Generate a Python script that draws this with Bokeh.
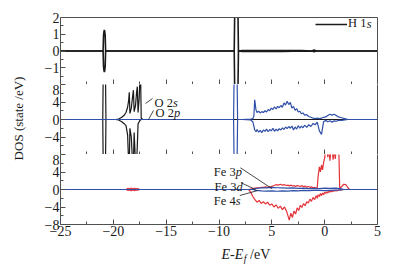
from math import pi
from bokeh.plotting import figure
from bokeh.layouts import column, row
from bokeh.models import FixedTicker, LinearAxis, Label, Arrow, Legend, LegendItem, Range1d
from bokeh.embed import file_html
from bokeh.resources import INLINE

# ---------------- data ----------------
x_ticks = [-25, -20, -15, -10, -5, 0, 5]
x_tick_labels = ["−25", "−20", "−15", "−10", "5", "0", "5"]
x_minor = [-22.5, -17.5, -12.5, -7.5, -2.5, 2.5]

top_y_ticks = [2, 1, 0, -1]
top_y_labels = ["2", "1", "0", "−1"]
top_y_minor = [1.5, 0.5, -0.5, -1.5]
mid_y_ticks = [8, 4, 0, -4]
mid_y_labels = ["8", "4", "0", "−4"]
bot_y_ticks = [8, 4, 0, -4, -8]
bot_y_labels = ["8", "4", "0", "−4", "−8"]
big_y_minor = [6, 2, -2, -6]

# H 1s (top panel)
h1s_x = [-25, -20.97, -20.93, -20.89, -20.85, -20.81, -20.77, -20.73, -8.56, -8.5, -8.36, -8.22, -8.16,
         -7.8, -7.0, -6.0, -5.0, -4.0, -3.0, -2.2, -1.2, -1.0, -0.8, 0, 5]
h1s_up = [0, 0, 0.9, 1.15, 1.25, 1.15, 0.9, 0, 0, 3.0, 3.4, 3.0, 0,
          0.02, 0.03, 0.02, 0.03, 0.02, 0.03, 0.02, 0, 0.06, 0, 0, 0]
h1s_dn = [0, 0, -0.9, -1.15, -1.25, -1.15, -0.9, 0, 0, -3.0, -3.4, -3.0, 0,
          -0.02, -0.02, -0.02, -0.02, -0.02, -0.01, -0.01, 0, -0.04, 0, 0, 0]

# O 2s (middle panel, black)
o2s_x = [-25, -21.0, -20.96, -20.9, -20.8, -20.74, -20.7, -19.8, -19.5, -19.2, -19.0, -18.8, -18.65,
         -18.55, -18.49, -18.43, -18.3, -18.18, -18.1, -18.03, -17.9, -17.8, -17.73, -17.66, -17.55,
         -17.48, -17.42, -17.36, -17.2, 5]
o2s_up = [0, 0, 10, 12, 12, 10, 0, 0, 0.1, 0.5, 0.9, 1.6, 2.8,
          4.4, 6.2, 1.4, 2.6, 5.2, 6.7, 1.8, 3.2, 6.2, 7.5, 1.6, 5.0,
          10, 10, 0.3, 0, 0]
o2s_dn = [0, 0, -10, -12, -12, -10, 0, 0, -0.1, -0.5, -0.9, -1.4, -3.5,
          -10, -10, -2, -4, -10, -10, -3, -10, -10, -6, -1, -0.5,
          -0.2, -0.1, 0, 0, 0]

# O 2p (middle panel, blue)
o2p_x = [-25, -8.62, -8.56, -8.3, -8.24, -7.8, -7.0, -6.8, -6.7, -6.62,
         -6.5, -6.4, -6.25, -6.1, -5.95, -5.8, -5.65, -5.5, -5.35, -5.2,
         -5.05, -4.9, -4.75, -4.6, -4.45, -4.3, -4.15, -4.0, -3.85, -3.7,
         -3.55, -3.4, -3.25, -3.1, -2.95, -2.8, -2.65, -2.5, -2.35, -2.2,
         -2.05, -1.9, -1.7, -1.5, -1.3, -1.1, -0.9, -0.7, -0.5, -0.3,
         -0.1, 0.1, 0.3, 0.5, 0.7, 0.9, 1.1, 1.3, 1.6, 1.9, 2.2, 5]
o2p_up = [0, 0, 12, 12, 0, 0, 0.1, 0.2, 0.8, 4.5,
          2.2, 1.6, 1.9, 1.5, 1.8, 1.6, 2.0, 1.7, 2.3, 2.0,
          2.6, 2.3, 2.9, 2.4, 3.0, 2.7, 3.2, 2.8, 3.8, 3.3,
          4.2, 3.4, 3.9, 2.6, 3.0, 2.1, 2.5, 1.7, 1.9, 1.3,
          1.5, 1.0, 1.1, 0.7, 0.5, 0.3, 0.2, 0.3, 0.2, 0.3,
          0.5, 0.6, 0.9, 1.2, 1.0, 1.2, 0.9, 0.6, 0.4, 0.2, 0, 0]
o2p_dn = [0, 0, -12, -12, 0, 0, -0.1, -0.5, -1.5, -2.4,
          -2.8, -2.3, -2.9, -2.5, -3.0, -2.4, -2.7, -2.2, -2.8, -2.3,
          -2.6, -2.0, -2.7, -2.2, -2.6, -2.1, -2.4, -1.9, -2.3, -1.7,
          -2.1, -1.6, -2.0, -1.5, -2.4, -1.7, -2.2, -1.4, -2.0, -1.5,
          -1.9, -1.3, -1.8, -1.2, -1.6, -0.9, -1.2, -0.6, -2.6, -3.4,
          -0.5, -0.2, -0.5, -0.3, -0.6, -0.3, -0.4, -0.2, -0.2, -0.1, 0, 0]

# Fe 3d (bottom panel, red)
fe3d_x = [-25, -18.8, -18.6, -18.45, -18.3, -18.15, -18.0, -17.85, -17.7, -17.5,
          -7.2, -7.0, -6.8, -6.6, -6.4, -6.2, -6.0, -5.8, -5.6, -5.4,
          -5.2, -5.0, -4.8, -4.6, -4.4, -4.2, -4.0, -3.8, -3.6,
          -3.45, -3.35, -3.2, -3.05, -2.9, -2.75, -2.6, -2.45, -2.3, -2.15,
          -2.0, -1.85, -1.7, -1.55, -1.4, -1.25, -1.1, -0.95, -0.8,
          -0.7, -0.62, -0.5, -0.4, -0.3, -0.2, -0.1, 0.0,
          0.1, 0.2, 0.3, 0.4, 0.5, 0.6, 0.7, 0.8, 0.9, 1.0, 1.1,
          1.25, 1.35, 1.42, 1.6, 1.8, 2.0, 2.2, 2.35, 5]
fe3d_up = [0, 0, 0.3, 0.1, 0.35, 0.1, 0.3, 0.15, 0.2, 0,
           0, 0.1, 0.2, 0.3, 0.4, 0.4, 0.5, 0.5, 0.6, 0.5,
           0.6, 0.7, 0.9, 1.1, 1.0, 1.2, 1.0, 1.1, 0.9,
           1.0, 0.8, 1.0, 0.8, 0.9, 0.7, 0.9, 0.8, 0.7, 0.9,
           0.6, 0.8, 0.5, 0.7, 0.5, 0.6, 0.4, 0.5, 0.3,
           0.5, 3.0, 5.2, 4.0, 5.6, 4.5, 6.2, 7.2,
           9.5, 9.5, 7.4, 9.5, 6.6, 9.5, 9.5, 6.8, 9.5, 7.0, 9.5,
           9.5, 8.0, 0.4, 0.6, 1.2, 1.1, 0.4, 0, 0]
fe3d_dn = [0, 0, -0.2, -0.1, -0.3, -0.1, -0.25, -0.1, -0.15, 0,
           0, -0.6, -1.6, -2.3, -2.9, -2.5, -3.2, -2.8, -3.3, -2.9,
           -3.6, -3.3, -4.0, -3.5, -4.3, -3.8, -4.6, -4.0, -5.0,
           -6.2, -7.0, -5.4, -6.4, -4.9, -5.6, -4.2, -4.8, -3.6, -4.1,
           -3.2, -3.7, -2.8, -3.1, -2.2, -2.7, -1.8, -2.3, -1.4,
           -2.0, -1.2, -1.6, -0.9, -1.4, -0.8, -1.2, -0.6,
           -0.9, -0.5, -0.8, -0.4, -0.6, -0.4, -0.5, -0.3, -0.4, -0.2, -0.3,
           -0.2, -0.1, -0.1, -0.1, 0, 0, 0, 0, 0]

# Fe 3p / 4s (bottom panel, blue)
fe_sp_x = [-25, -6.8, -6.5, -6.0, -5.5, -5.0, -4.5, -4.0, -3.5, -3.0, -2.5, -2.0, -1.5, -1.0, -0.5,
           0.0, 0.5, 1.0, 1.5, 1.8, 5]
fe_sp_up = [0, 0, 0.2, 0.4, 0.35, 0.5, 0.4, 0.35, 0.3, 0.35, 0.25, 0.3, 0.2, 0.25, 0.2,
            0.3, 0.25, 0.3, 0.2, 0, 0]
fe_sp_dn = [0, 0, -0.2, -0.3, -0.35, -0.3, -0.4, -0.3, -0.35, -0.25, -0.3, -0.2, -0.25, -0.2, -0.2,
            -0.25, -0.2, -0.15, -0.1, 0, 0]

for xs, *ys in [(h1s_x, h1s_up, h1s_dn), (o2s_x, o2s_up, o2s_dn), (o2p_x, o2p_up, o2p_dn),
                (fe3d_x, fe3d_up, fe3d_dn), (fe_sp_x, fe_sp_up, fe_sp_dn)]:
    for y in ys:
        assert len(xs) == len(y), (len(xs), len(y))

# ---------------- style ----------------
FONT = "Liberation Serif"
AXC = "#505050"
TXT = "#1a1a1a"
BLACK = "#1a1a1a"
BLUE = "#2f4fa8"
RED = "#e3343a"
LW = 1.2
FRAME_W = 317
LEFT_B = 32
RIGHT_B = 10
YLAB_W = 28
TOP_B = 17
P3_BOTTOM = 17
XLAB_H = 23

W_NORMAL = {"O": 0.722, "F": 0.556, "e": 0.444, "H": 0.722, " ": 0.25, "1": 0.5, "2": 0.5,
            "3": 0.5, "4": 0.5, "/": 0.278, "V": 0.722}
W_ITALIC = {"E": 0.611, "-": 0.333, "f": 0.278}


def text_w(s, size, table):
    return sum(table[c] for c in s) * size


def style_axis(ax, ticks, labels, minor, show_labels=True):
    ax.ticker = FixedTicker(ticks=ticks, minor_ticks=minor)
    ax.major_label_overrides = {t: (l if show_labels else " ") for t, l in zip(ticks, labels)}
    ax.major_tick_in = 5
    ax.major_tick_out = 0
    ax.minor_tick_in = 3
    ax.minor_tick_out = 0
    ax.axis_line_color = AXC
    ax.major_tick_line_color = AXC
    ax.minor_tick_line_color = AXC
    ax.major_label_text_font = FONT
    ax.major_label_text_color = TXT
    if show_labels:
        ax.major_label_text_font_size = "14px"
        ax.major_label_standoff = 1
    else:
        ax.major_label_text_font_size = "0px"
        ax.major_label_text_alpha = 0
        ax.major_label_standoff = 0


def bare_axis():
    return LinearAxis(ticker=FixedTicker(ticks=[]), axis_line_color=AXC,
                      major_tick_in=0, major_tick_out=0, minor_tick_in=0, minor_tick_out=0,
                      major_label_text_font_size="0px", major_label_standoff=0)


def make_panel(y_lo, y_hi, frame_h, top_border, bottom_border):
    p = figure(frame_width=FRAME_W, frame_height=frame_h,
               x_range=Range1d(-25, 5), y_range=Range1d(y_lo, y_hi),
               output_backend="svg", toolbar_location=None,
               min_border_left=LEFT_B, min_border_right=RIGHT_B,
               min_border_top=top_border, min_border_bottom=bottom_border,
               background_fill_color="white", border_fill_color="white")
    p.outline_line_color = None
    p.xgrid.visible = False
    p.ygrid.visible = False
    p.add_layout(bare_axis(), "right")
    return p


def rich_label(p, x, y, plain, ital, size=12.5):
    p.add_layout(Label(x=x, y=y, text=plain, text_font=FONT, text_font_size=f"{size}px",
                       text_color=TXT, text_baseline="alphabetic", text_align="left"))
    p.add_layout(Label(x=x, y=y, x_offset=text_w(plain, size, W_NORMAL), text=ital,
                       text_font=FONT, text_font_style="italic", text_font_size=f"{size}px",
                       text_color=TXT, text_baseline="alphabetic", text_align="left"))


def leader(p, x0, y0, x1, y1):
    p.add_layout(Arrow(end=None, x_start=x0, y_start=y0, x_end=x1, y_end=y1,
                       line_color=TXT, line_width=0.8))


# ---------------- top panel: H 1s ----------------
p1 = make_panel(-2, 2, 67, TOP_B, 0)
style_axis(p1.below[0], x_ticks, x_tick_labels, x_minor, show_labels=False)
style_axis(p1.left[0], top_y_ticks, top_y_labels, top_y_minor)
p1.add_layout(bare_axis(), "above")
r_h = p1.line(h1s_x, h1s_up, line_color=BLACK, line_width=1.6)
p1.line(h1s_x, h1s_dn, line_color=BLACK, line_width=1.6)
leg = Legend(items=[LegendItem(label="H 1", renderers=[r_h])], location=(255, 53),
             border_line_color=None, background_fill_alpha=0, padding=0, spacing=0, margin=0,
             glyph_width=32, glyph_height=12, label_height=12, label_standoff=1,
             label_text_font=FONT, label_text_font_size="12.5px", label_text_color=TXT)
p1.add_layout(leg)
p1.add_layout(Label(x=3.99, y=1.64, text="s", text_font=FONT, text_font_style="italic",
                    text_font_size="12.5px", text_color=TXT, text_baseline="middle"))

# ---------------- middle panel: O ----------------
p2 = make_panel(-8, 8, 70, 0, 0)
style_axis(p2.below[0], x_ticks, x_tick_labels, x_minor, show_labels=False)
style_axis(p2.left[0], mid_y_ticks, mid_y_labels, big_y_minor)
p2.line(o2s_x, o2s_up, line_color=BLACK, line_width=LW)
p2.line(o2s_x, o2s_dn, line_color=BLACK, line_width=LW)
p2.line(o2p_x, o2p_up, line_color=BLUE, line_width=LW)
p2.line(o2p_x, o2p_dn, line_color=BLUE, line_width=LW)
rich_label(p2, -16.1, 3.66, "O 2", "s")
rich_label(p2, -16.0, 1.6, "O 2", "p")
leader(p2, -16.96, 3.66, -16.29, 4.8)
leader(p2, -16.67, 0.0, -16.2, 2.06)

# ---------------- bottom panel: Fe ----------------
p3 = make_panel(-8, 8, 70, 0, P3_BOTTOM)
style_axis(p3.below[0], x_ticks, x_tick_labels, x_minor, show_labels=True)
style_axis(p3.left[0], bot_y_ticks, bot_y_labels, big_y_minor)
p3.line(fe3d_x, fe3d_up, line_color=RED, line_width=LW)
p3.line(fe3d_x, fe3d_dn, line_color=RED, line_width=LW)
p3.line(fe_sp_x, fe_sp_up, line_color=BLUE, line_width=LW)
p3.line(fe_sp_x, fe_sp_dn, line_color=BLUE, line_width=LW)
rich_label(p3, -10.49, 3.89, "Fe 3", "p")
rich_label(p3, -10.42, 0.57, "Fe 3", "d")
rich_label(p3, -10.49, -2.63, "Fe 4", "s")
leader(p3, -7.97, 4.96, -4.97, 0.16)
leader(p3, -7.90, 1.53, -6.55, 0.0)
leader(p3, -8.03, -1.37, -6.33, -0.23)

# ---------------- x title strip:  E-E_f /eV ----------------
XLAB_W = LEFT_B + FRAME_W + RIGHT_B
xlab = figure(frame_width=XLAB_W, frame_height=XLAB_H, x_range=Range1d(0, XLAB_W),
              y_range=Range1d(0, XLAB_H), x_axis_type=None, y_axis_type=None, min_border=0,
              output_backend="svg", toolbar_location=None,
              background_fill_color="white", border_fill_color="white")
xlab.outline_line_color = None
xlab.xgrid.visible = False
xlab.ygrid.visible = False
XS = 14
XT_X = 161
XT_Y = 10
xlab.add_layout(Label(x=XT_X, y=XT_Y, text="E-E", text_font=FONT, text_font_style="italic",
                      text_font_size=f"{XS}px", text_color=TXT, text_baseline="alphabetic"))
off_f = text_w("E-E", XS, W_ITALIC) + 0.5
xlab.add_layout(Label(x=XT_X, y=XT_Y, x_offset=off_f, y_offset=-4, text="f", text_font=FONT,
                      text_font_style="italic", text_font_size="10px", text_color=TXT,
                      text_baseline="alphabetic"))
off_ev = off_f + text_w("f", 10, W_ITALIC) + 0.25 * XS
xlab.add_layout(Label(x=XT_X, y=XT_Y, x_offset=off_ev, text="/eV", text_font=FONT,
                      text_font_size=f"{XS}px", text_color=TXT, text_baseline="alphabetic"))

# ---------------- y title strip ----------------
YLAB_H = TOP_B + 67 + 70 + 70 + P3_BOTTOM + XLAB_H
ylab = figure(frame_width=YLAB_W, frame_height=YLAB_H, x_range=Range1d(0, YLAB_W),
              y_range=Range1d(0, YLAB_H), x_axis_type=None, y_axis_type=None, min_border=0,
              output_backend="svg", toolbar_location=None,
              background_fill_color="white", border_fill_color="white")
ylab.outline_line_color = None
ylab.add_layout(Label(x=18, y=YLAB_H - 118, text="DOS (state /eV)", angle=pi / 2,
                      text_align="center", text_baseline="middle", text_font=FONT,
                      text_font_size="13px", text_color=TXT))

layout = row(ylab, column(p1, p2, p3, xlab, spacing=0), spacing=0)
open("out.html", "w").write(file_html(layout, INLINE))
